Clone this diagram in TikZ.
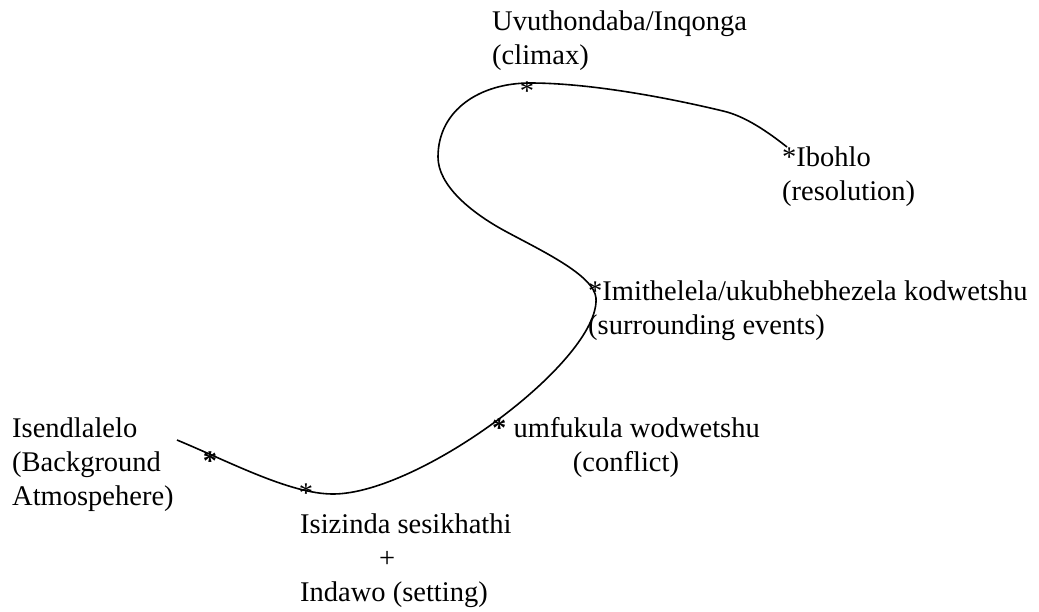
\documentclass[tikz,border=0pt]{standalone}
\usepackage{fontspec}
\setmainfont{Liberation Serif}
\usepackage{tikz}

\begin{document}
\begin{tikzpicture}[x=1pt, y=-1pt,
  label/.style={font=\fontsize{28.5}{34}\selectfont, inner sep=0pt, anchor=base west},
  asterisk/.style={font=\fontsize{28.5}{34}\selectfont, inner sep=0pt, anchor=base}]
  \useasboundingbox (0,0) rectangle (1039,611);

  % Plot line
  \coordinate (start) at (177,440);
  \coordinate (bottom) at (333,494);
  \coordinate (right) at (596,298);
  \coordinate (turn) at (505,231);
  \coordinate (left) at (438,157);
  \coordinate (top) at (530,83);
  \coordinate (fall) at (723,111);
  \coordinate (end) at (787,147);
  \draw[line width=1.6pt]
    (start) .. controls (230,462) and (290,494) .. (bottom)
    .. controls (420,494) and (600,360) .. (right)
    .. controls (594,275) and (540,250) .. (turn)
    .. controls (470,212) and (438,185) .. (left)
    .. controls (438,110) and (480,83) .. (top)
    .. controls (600,83) and (690,103) .. (fall)
    .. controls (745,116) and (768,132) .. (end);

  % Marks on the line
  \node[asterisk] (s1) at (210,470) {\textbf{*}};
  \node[asterisk] (s2) at (306,502) {*};
  \node[asterisk] (s3) at (527,100) {*};

  % Labels
  \node[label, align=left] (background) at (12,505) {Isendlalelo\\(Background\\Atmospehere)};
  \node[label, align=left] (setting) at (300,601) {Isizinda sesikhathi\\\hspace*{79pt}+\\Indawo (setting)};
  \node[label, align=center] (conflict) at (492,471) {\textbf{*} umfukula wodwetshu\\(conflict)};
  \node[label, align=left] (events) at (588,334) {*Imithelela/ukubhebhezela kodwetshu\\(surrounding events)};
  \node[label, align=left] (climax) at (492,64) {Uvuthondaba/Inqonga\\(climax)};
  \node[label, align=left] (resolution) at (782,200) {*Ibohlo\\(resolution)};
\end{tikzpicture}
\end{document}
